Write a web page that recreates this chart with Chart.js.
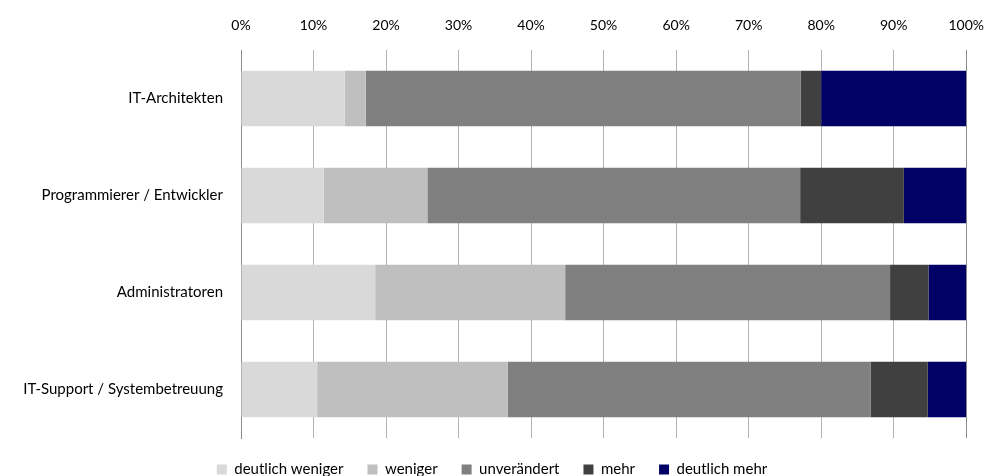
<!DOCTYPE html>
<html>
<head>
<meta charset="utf-8">
<script src="https://cdn.jsdelivr.net/npm/chart.js@4"></script>
<style>
  html, body { margin: 0; padding: 0; background: #fff; overflow: hidden; }
  #wrap { width: 1000px; height: 476px; }
</style>
</head>
<body>
<div id="wrap"><canvas id="chart"></canvas></div>
<script>
const categories = [
  "IT-Architekten",
  "Programmierer / Entwickler",
  "Administratoren",
  "IT-Support / Systembetreuung"
];

const deutlichWeniger = [14.3, 11.4, 18.5, 10.5];
const weniger = [2.9, 14.3, 26.2, 26.3];
const unveraendert = [60.0, 51.4, 44.8, 50.0];
const mehr = [2.8, 14.3, 5.3, 7.9];
const deutlichMehr = [20.0, 8.6, 5.2, 5.3];

const tickValues = [0, 10, 20, 30, 40, 50, 60, 70, 80, 90, 100];

const tickFont = { family: "Lato", size: 14 };
const labelFont = { family: "Lato", size: 15 };

new Chart(document.getElementById("chart"), {
  type: "bar",
  data: {
    labels: categories,
    datasets: [
      { label: "deutlich weniger", data: deutlichWeniger, backgroundColor: "#d9d9d9" },
      { label: "weniger", data: weniger, backgroundColor: "#bfbfbf" },
      { label: "unverändert", data: unveraendert, backgroundColor: "#808080" },
      { label: "mehr", data: mehr, backgroundColor: "#404040" },
      { label: "deutlich mehr", data: deutlichMehr, backgroundColor: "#000066" }
    ]
  },
  options: {
    indexAxis: "y",
    responsive: true,
    maintainAspectRatio: false,
    animation: false,
    barPercentage: 0.57,
    categoryPercentage: 1,
    layout: {
      padding: { left: 0, right: 16, top: 0, bottom: -11 }
    },
    plugins: {
      legend: {
        position: "bottom",
        labels: {
          color: "#000",
          font: labelFont,
          boxWidth: 10,
          boxHeight: 10,
          padding: 24
        }
      },
      tooltip: { enabled: false }
    },
    scales: {
      x: {
        position: "top",
        stacked: true,
        min: 0,
        max: 100,
        afterBuildTicks(scale) {
          scale.ticks = tickValues.map(v => ({ value: v }));
        },
        afterFit(scale) {
          scale.height = 50;
        },
        ticks: {
          color: "#000",
          font: tickFont,
          padding: 16,
          callback: v => v + "%"
        },
        grid: {
          drawTicks: false,
          color: ctx => (ctx.tick && ctx.tick.value === 100 ? "#8c8c8c" : "#b3b3b3"),
          lineWidth: 1
        },
        border: { display: false }
      },
      y: {
        stacked: true,
        afterFit(scale) {
          scale.width = 241;
        },
        ticks: {
          color: "#000",
          font: labelFont,
          padding: 18
        },
        grid: { display: false, drawTicks: false },
        border: { display: true, color: "#8c8c8c", width: 1 }
      }
    }
  }
});
</script>
</body>
</html>
